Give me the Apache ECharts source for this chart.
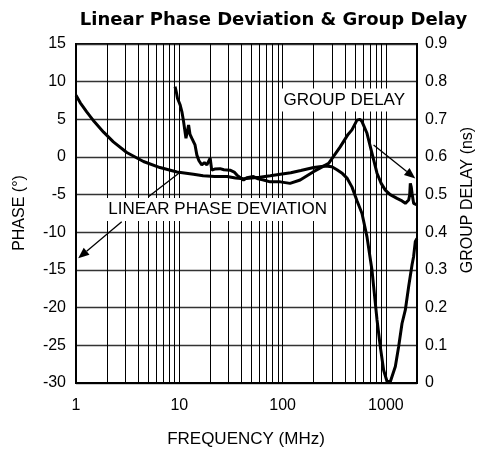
<!DOCTYPE html>
<html>
<head>
<meta charset="utf-8">
<script src="https://cdn.jsdelivr.net/npm/echarts@6/dist/echarts.min.js"></script>
<style>
html,body{margin:0;padding:0;background:#fff;}
#c{width:484px;height:451px;}
</style>
</head>
<body>
<div id="c"></div>
<script>
// Linear phase deviation (left axis, degrees)
const phaseFreq = [1,1.1,1.27,1.5,1.85,2.3,3.1,4.5,6.5,9.5,13.7,17,22,29,35,42,50,60,76,95,120,150,200,260,300,336,380,420,470,525,587,656,733,761,820,883,951,1026,1105,1234,1328,1432,1542,1661,1791,1855,1927,2000];
const phaseVal  = [8.2,7.2,6.0,4.7,3.3,2.0,0.6,-0.6,-1.4,-2.0,-2.3,-2.5,-2.6,-2.6,-2.8,-2.9,-2.8,-2.7,-2.5,-2.3,-2.1,-1.8,-1.4,-1.2,-1.3,-1.7,-2.2,-2.8,-4.0,-5.8,-7.5,-10.6,-15,-17.2,-21.6,-25.2,-28.3,-29.8,-29.8,-27.8,-25.2,-22.1,-20.3,-17.2,-14.3,-13.2,-11.2,-10.8];
// Group delay (right axis, ns)
const gdFreq = [9.1,9.4,9.6,9.9,10.2,10.6,11.0,11.6,12.3,12.7,13.2,14.2,14.8,15.5,16.5,17.5,18.5,19.9,20.6,22,24.8,27,31,34,36.1,41.8,45,52.2,58,65.3,75.8,95,118,148,199,279,361,430,469,525,560,587,656,733,820,900,987,1100,1281,1400,1542,1661,1700,1723,1760,1791,1855,2000];
const gdVal  = [0.787,0.77,0.756,0.76,0.738,0.72,0.694,0.650,0.685,0.66,0.650,0.632,0.605,0.59,0.579,0.585,0.579,0.597,0.565,0.568,0.569,0.566,0.565,0.56,0.552,0.539,0.545,0.548,0.542,0.539,0.534,0.534,0.530,0.539,0.561,0.583,0.627,0.66,0.672,0.698,0.70,0.694,0.663,0.610,0.557,0.53,0.512,0.50,0.490,0.485,0.477,0.486,0.50,0.530,0.52,0.504,0.477,0.473];
// Vertical grid lines (frequency, MHz)
const vGrid = [2,3,4,5,6,7,8,9,10,20,30,40,50,60,70,80,90,100,200,300,400,500,600,700,800,900,1000];
const xTicks = [1,10,100,1000];

const titleText = 'Linear Phase Deviation & Group Delay';
const leftName = 'PHASE (°)';
const rightName = 'GROUP DELAY (ns)';
const xName = 'FREQUENCY (MHz)';
const gdLabel = 'GROUP DELAY';
const lpdLabel = 'LINEAR PHASE DEVIATION';

const chart = echarts.init(document.getElementById('c'), null, {renderer:'canvas'});
const FONT = '"Liberation Sans", Arial, sans-serif';

chart.setOption({
  animation:false,
  backgroundColor:'#fff',
  grid:{left:76,right:67,top:44,bottom:68,show:true,borderColor:'#000',borderWidth:2,backgroundColor:'transparent'},
  xAxis:{
    type:'log', logBase:10, min:1, max:2000,
    axisLine:{show:true,onZero:false,lineStyle:{color:'#000',width:2}},
    axisTick:{show:false},
    splitLine:{show:false},
    axisLabel:{color:'#000',fontFamily:FONT,fontSize:16,margin:15,
      formatter:function(v){return xTicks.indexOf(v)>=0?String(v):'';},
      showMaxLabel:false}
  },
  yAxis:[{
    type:'value', min:-30, max:15, interval:5,
    axisLine:{show:true,onZero:false,lineStyle:{color:'#000',width:2}},
    axisTick:{show:false},
    splitLine:{show:true,lineStyle:{color:'#333',width:1.3}},
    axisLabel:{color:'#000',fontFamily:FONT,fontSize:16,margin:10}
  },{
    type:'value', min:0, max:0.9, interval:0.1, position:'right',
    axisLine:{show:true,onZero:false,lineStyle:{color:'#000',width:2}},
    axisTick:{show:false},
    splitLine:{show:false},
    axisLabel:{color:'#000',fontFamily:FONT,fontSize:16,margin:8,
      formatter:function(v){return Math.abs(v)<1e-9?'0':v.toFixed(1);}}
  }],
  series:[{
    type:'line', yAxisIndex:0, showSymbol:false, symbol:'none',
    data:phaseFreq.map((f,i)=>[f,phaseVal[i]]),
    lineStyle:{color:'#000',width:3},
    z:5,
    markLine:{silent:true,symbol:['none','none'],label:{show:false},
      lineStyle:{color:'#000',width:1,type:'solid'},
      data:vGrid.map(v=>({xAxis:v})), z:1}
  },{
    type:'line', yAxisIndex:1, showSymbol:false, symbol:'none',
    data:gdFreq.map((f,i)=>[f,gdVal[i]]),
    lineStyle:{color:'#000',width:3},
    z:5
  }]
});

function px(f,v,axis){return chart.convertToPixel({xAxisIndex:0,yAxisIndex:axis},[f,v]);}
function arrow(a,b){
  const dx=b[0]-a[0], dy=b[1]-a[1], L=Math.sqrt(dx*dx+dy*dy);
  const ux=dx/L, uy=dy/L, hl=11, hw=4.5;
  const bx=b[0]-ux*hl, by=b[1]-uy*hl;
  return [
    {type:'line',z:100,shape:{x1:a[0],y1:a[1],x2:bx,y2:by},style:{stroke:'#000',lineWidth:1.3}},
    {type:'polygon',z:100,shape:{points:[[b[0],b[1]],[bx-uy*hw,by+ux*hw],[bx+uy*hw,by-ux*hw]]},style:{fill:'#000'}}
  ];
}
const gdA = px(760,0.632,1), gdB = px(1927,0.543,1);
const lpA = px(2.77,-8.6,0), lpB = px(1.05,-13.45,0);
const lnA = px(5.02,-5.27,0), lnB = px(9.89,-2.16,0);
const gdL = px(395,7.57,0), lpL = px(23.5,-6.97,0);

const g = [];
g.push({type:'text',z:100,x:gdL[0],y:gdL[1],style:{text:gdLabel,font:'17px '+FONT,fill:'#000',align:'center',verticalAlign:'middle',backgroundColor:'#fff',padding:[3,3]}});
g.push({type:'text',z:100,x:lpL[0],y:lpL[1],style:{text:lpdLabel,font:'17px '+FONT,fill:'#000',align:'center',verticalAlign:'middle',backgroundColor:'#fff',padding:[3,3]}});
g.push(...arrow(gdA,gdB));
g.push(...arrow(lpA,lpB));
g.push({type:'line',z:100,shape:{x1:lnA[0],y1:lnA[1],x2:lnB[0],y2:lnB[1]},style:{stroke:'#000',lineWidth:1.3}});
g.push({type:'text',z:100,x:273.5,y:20,style:{text:titleText,font:'bold 18px "DejaVu Sans", sans-serif',fill:'#000',align:'center',verticalAlign:'middle'}});
g.push({type:'text',z:100,x:20,y:213,rotation:Math.PI/2,style:{text:leftName,font:'16px '+FONT,fill:'#000',align:'center',verticalAlign:'middle'}});
g.push({type:'text',z:100,x:468,y:200,rotation:Math.PI/2,style:{text:rightName,font:'16px '+FONT,fill:'#000',align:'center',verticalAlign:'middle'}});
g.push({type:'text',z:100,x:246,y:439,style:{text:xName,font:'17px '+FONT,fill:'#000',align:'center',verticalAlign:'middle'}});
chart.setOption({graphic:g});
</script>
</body>
</html>
